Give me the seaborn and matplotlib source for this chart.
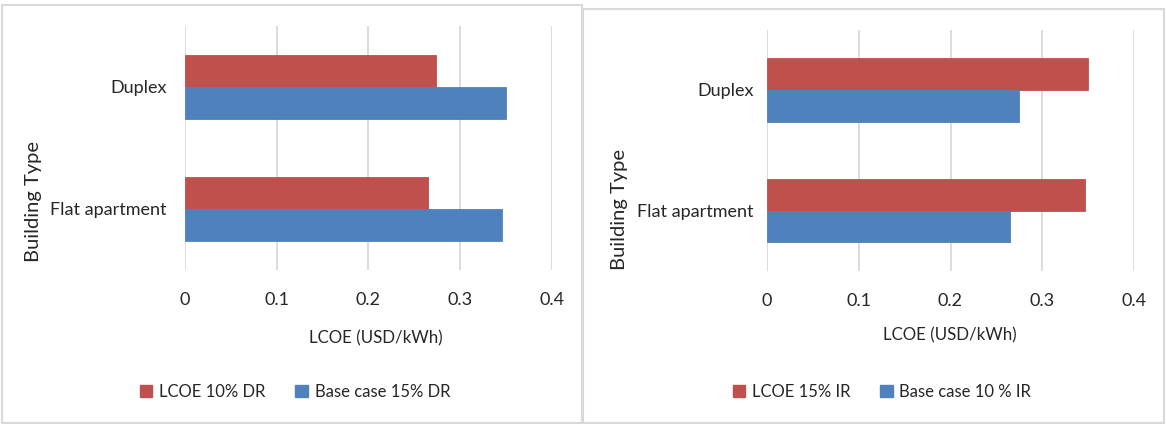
import matplotlib
matplotlib.use("Agg")
import matplotlib.pyplot as plt
from matplotlib.patches import Rectangle, Patch
import seaborn as sns
import pandas as pd

# Levelised cost of energy by building type
building_types = ["Duplex", "Flat apartment"]

# Discount-rate comparison
dr_labels = ["LCOE 10% DR", "Base case 15% DR"]
lcoe_10_dr = [0.274, 0.265]
base_15_dr = [0.350, 0.346]

# Interest-rate comparison
ir_labels = ["LCOE 15% IR", "Base case 10 % IR"]
lcoe_15_ir = [0.350, 0.346]
base_10_ir = [0.274, 0.265]

x_ticks = [0, 0.1, 0.2, 0.3, 0.4]
x_tick_labels = ["0", "0.1", "0.2", "0.3", "0.4"]

RED = "#C0504D"
BLUE = "#4F81BD"
GRID = "#D9D9D9"
TEXT = "#262626"

sns.set_theme(style="white")
plt.rcParams["font.family"] = ["Lato", "DejaVu Sans"]

W, H = 1166, 424
fig = plt.figure(figsize=(W / 100, H / 100), dpi=100)


def px_rect(x0, y0, x1, y1):
    return [x0 / W, 1 - y1 / H, (x1 - x0) / W, (y1 - y0) / H]


def panel(ax_box, border, series_a, series_b, labels, ypad, ylab_x, ylab_y,
          xlab_x, xlab_y, leg_x, leg_y):
    # light frame around each chart
    fig.patches.append(Rectangle((border[0] / W, 1 - border[3] / H),
                                 (border[2] - border[0]) / W,
                                 (border[3] - border[1]) / H,
                                 transform=fig.transFigure, fill=False,
                                 edgecolor=GRID, linewidth=1.5))
    ax = fig.add_axes(px_rect(*ax_box))
    df = pd.DataFrame({
        "Building Type": building_types * 2,
        "LCOE": list(series_a) + list(series_b),
        "Series": [labels[0]] * len(building_types) + [labels[1]] * len(building_types),
    })
    sns.barplot(data=df, y="Building Type", x="LCOE", hue="Series",
                order=building_types, hue_order=labels,
                palette=[RED, BLUE], saturation=1, orient="h",
                width=0.525, gap=0, dodge=True, errorbar=None, ax=ax,
                legend=False, linewidth=0.6)
    for bar, col in zip(ax.patches, [RED, RED, BLUE, BLUE]):
        bar.set_edgecolor(col)
    ax.set_xlim(0, 0.4)
    ax.set_ylim(1.5, -0.5)
    ax.set_xticks(x_ticks)
    ax.set_xticklabels(x_tick_labels)
    ax.grid(axis="x", color=GRID, linewidth=1.3)
    ax.grid(axis="y", visible=False)
    ax.set_axisbelow(True)
    for s in ax.spines.values():
        s.set_visible(False)
    ax.tick_params(axis="x", length=0, pad=15.5, labelsize=13, labelcolor=TEXT)
    ax.tick_params(axis="y", length=0, pad=ypad, labelsize=13, labelcolor=TEXT)
    ax.set_xlabel("")
    ax.set_ylabel("")
    fig.text(ylab_x / W, 1 - ylab_y / H, "Building Type", rotation=90,
             ha="center", va="center", fontsize=14.5, color=TEXT)
    fig.text(xlab_x / W, 1 - xlab_y / H, "LCOE (USD/kWh)",
             ha="center", va="center", fontsize=12.2, color=TEXT)
    handles = [Patch(facecolor=RED, edgecolor=RED),
               Patch(facecolor=BLUE, edgecolor=BLUE)]
    fig.legend(handles, labels, loc="center", ncol=2, frameon=False,
               bbox_to_anchor=(leg_x / W, 1 - leg_y / H), fontsize=12,
               handlelength=0.75, handleheight=0.75, handletextpad=0.4,
               columnspacing=1.8, labelcolor=TEXT)
    return ax


panel((185, 26, 551.7, 270), (1.5, 4.5, 581.5, 422.5),
      lcoe_10_dr, base_15_dr, dr_labels, 13,
      34, 202, 376, 338, 295, 392)
panel((766.7, 29.5, 1134.3, 271), (582.5, 8.5, 1164, 422.5),
      lcoe_15_ir, base_10_ir, ir_labels, 9.5,
      619, 210, 950, 335, 882, 392)

fig.savefig("out.png", dpi=100)
